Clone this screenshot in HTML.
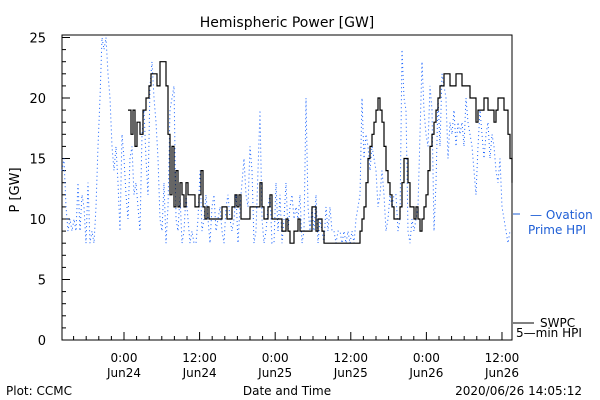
<!DOCTYPE html>
<html><head><meta charset="utf-8"><style>
html,body{margin:0;padding:0;background:#fff;}
svg{display:block;font-family:"DejaVu Sans","Liberation Sans",sans-serif;}
</style></head><body>
<svg id="chart" width="600" height="400" viewBox="0 0 600 400">
<text x="287" y="27" font-size="14" text-anchor="middle">Hemispheric Power [GW]</text>
<text x="19" y="190" font-size="13" text-anchor="middle" transform="rotate(-90 19 190)">P [GW]</text>
<text x="287" y="395" font-size="12" text-anchor="middle">Date and Time</text>
<text x="6" y="395" font-size="12">Plot: CCMC</text>
<text x="582" y="395" font-size="12" text-anchor="end">2020/06/26 14:05:12</text>
<g id="axes"></g>
<g id="series"></g>
<line x1="513" y1="214" x2="520" y2="214" stroke="#1f5fd6" stroke-width="1"/>
<text x="530" y="219" font-size="12" fill="#1f5fd6">— Ovation</text>
<text x="528" y="234" font-size="12" fill="#1f5fd6">Prime HPI</text>
<line x1="513" y1="323" x2="534" y2="323" stroke="#000"/>
<text x="540" y="327" font-size="12">SWPC</text>
<text x="516" y="337" font-size="12">5—min HPI</text>
</svg>
<script>
const yTicks=[0,5,10,15,20,25];
const xTickHours=[0,12,24,36,48,60];
const xTickLabels=[["0:00","Jun24"],["12:00","Jun24"],["0:00","Jun25"],["12:00","Jun25"],["0:00","Jun26"],["12:00","Jun26"]];
const swpcHours=[0.63,1.11,1.43,1.75,2.06,2.54,3.02,3.49,3.97,4.29,4.76,5.24,5.71,6.19,6.67,6.98,7.3,7.62,7.94,8.25,8.57,8.89,9.21,9.52,9.84,10.16,10.48,10.95,11.27,11.59,11.9,12.22,12.54,12.86,13.17,13.49,13.97,14.29,14.6,14.92,15.56,16.03,16.35,16.67,17.14,17.62,17.94,18.25,18.57,19.21,20,21.27,21.59,21.9,22.22,22.86,23.17,23.49,24.13,24.76,25.08,25.71,26.03,26.35,26.98,27.62,27.94,28.57,29.21,29.84,30.48,30.79,31.43,31.75,32.7,33.65,34.29,34.92,35.87,36.83,37.46,37.78,38.1,38.41,38.73,39.05,39.37,39.68,40,40.32,40.63,40.95,41.27,41.59,41.9,42.22,42.54,42.86,43.49,43.81,44.13,44.44,44.76,45.08,45.4,45.71,46.03,46.35,46.67,46.98,47.3,47.62,47.94,48.25,48.57,48.89,49.21,49.52,49.84,50.16,50.48,50.79,51.43,51.75,52.38,52.7,53.33,53.65,54.29,54.92,55.56,55.87,56.19,56.51,57.14,57.46,57.78,58.41,58.73,59.05,59.37,60,60.32,60.95,61.27,61.59];
const swpcValues=[19,17,19,16,18,17,19,20,21,22,22,21,23,23,21,17,12,16,11,14,11,13,12,11,13,12,12,12,11,11,12,14,11,10,11,10,10,10,10,10,11,11,10,10,11,12,11,12,10,10,11,11,13,11,10,11,12,10,10,10,9,10,9,8,9,10,9,9,9,11,9,10,9,8,8,8,8,8,8,8,9,10,11,13,15,16,17,18,19,20,19,18,16,14,13,12,11,10,10,11,13,15,15,13,11,11,10,11,10,9,10,11,12,14,16,17,18,19,20,21,21,22,22,21,21,22,22,21,21,20,20,18,19,19,20,20,19,19,18,19,20,20,19,17,15,13];
const ovationStartHour=-9.84;
const ovationStepHour=0.3175;
const ovationValues=[14,15,11,9,10,9,10,9,13,9,12,11,8,13,8,9,8,11,16,20,25,24,25,22,20,16,14,16,13,9,17,15,12,10,15,16,12,13,11,9,17,19,15,12,21,23,20,18,15,10,9,13,8,11,19,20,21,10,9,12,8,9,12,10,8,9,8,8,10,14,9,10,12,10,8,11,12,9,10,11,9,8,11,12,10,9,10,12,8,11,13,15,12,11,16,14,8,9,14,19,10,8,9,11,12,8,8,13,9,12,8,10,13,9,11,12,10,11,10,12,8,9,20,11,9,11,9,12,8,10,9,8,11,9,11,9,9,8,9,9,8,9,8,9,8,9,8,10,11,12,20,15,17,16,14,16,15,14,11,12,14,12,9,10,12,11,12,12,9,10,24,20,19,9,8,10,9,10,11,17,23,19,17,16,21,19,9,13,20,16,22,21,20,15,18,17,19,16,18,17,18,16,20,18,17,16,14,12,16,19,17,15,17,18,15,17,16,14,13,15,11,10,9,8,9];

const X0=62,X1=512,Y0=340,Y1=37.5,H0=-9.84,H1=61.59;
const xs=h=>X0+(h-H0)/(H1-H0)*(X1-X0);
const ys=v=>Y0+(v/25)*(Y1-Y0);
const NS="http://www.w3.org/2000/svg";
const axes=document.getElementById('axes'),series=document.getElementById('series');
function mk(tag,attrs,parent){const e=document.createElementNS(NS,tag);for(const k in attrs)e.setAttribute(k,attrs[k]);parent.appendChild(e);return e;}

const frame=mk('rect',{x:X0,y:35,width:X1-X0,height:Y0-35,fill:'none',stroke:'#000'},axes);


for(let v=0;v<=25;v++){
  const major=v%5===0;
  const t=mk('line',{x1:X0,x2:X0+(major?8:4),y1:ys(v),y2:ys(v),stroke:'#000'},axes);
  
  
}
yTicks.forEach(v=>{
  const t=mk('text',{x:46,y:ys(v)+5,'font-size':13,'text-anchor':'end'},axes);t.textContent=v;
  
  
});
for(let h=-8;h<=61;h+=2){
  const major=h%12===0;
  const t=mk('line',{x1:xs(h),x2:xs(h),y1:Y0,y2:Y0-(major?8:4),stroke:'#000'},axes);
  
  
}
xTickHours.forEach((h,i)=>{
  const t=mk('text',{x:xs(h),y:362,'font-size':12,'text-anchor':'middle'},axes);t.textContent=xTickLabels[i][0];
  
  
  const t2=mk('text',{x:xs(h),y:377,'font-size':12,'text-anchor':'middle'},axes);t2.textContent=xTickLabels[i][1];
  
  
});
let bd='';
ovationValues.forEach((v,i)=>{const x=xs(ovationStartHour+i*ovationStepHour).toFixed(1),y=ys(v).toFixed(1);bd+=(i?'L':'M')+x+','+y;});
const ov=mk('path',{d:bd,fill:'none',stroke:'#1560ff','stroke-width':1,'stroke-dasharray':'1,3'},series);


let sd='';
swpcHours.forEach((h,i)=>{const x=xs(h).toFixed(1),y=ys(swpcValues[i]).toFixed(1);sd+=i?('H'+x+'V'+y):('M'+x+','+y);});
const sw=mk('path',{d:sd,fill:'none',stroke:'#000','stroke-width':1.2},series);


</script>
</body></html>
